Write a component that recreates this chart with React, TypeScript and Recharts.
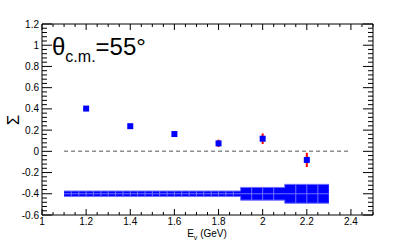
import { ComposedChart, Scatter, Area, XAxis, YAxis, ErrorBar, ReferenceLine } from 'recharts';

// beam energy (GeV) and measured beam asymmetry
const energies = [1.2, 1.4, 1.6, 1.8, 2.0, 2.2];
const sigma = [0.403, 0.237, 0.163, 0.075, 0.119, -0.081];
const statErr = [0, 0, 0, 0.035, 0.05, 0.067];

// systematic band (stepped), centred at -0.4
const bandEdges = [1.1, 1.9, 2.1, 2.3];
const bandHalf = [0.026, 0.06, 0.089, 0.089];
const bandCenter = -0.4;
// cell borders inside the band
const cellEdges = [
  1.133, 1.167, 1.2, 1.233, 1.267, 1.3, 1.333, 1.367, 1.4, 1.433, 1.467, 1.5,
  1.533, 1.567, 1.6, 1.633, 1.667, 1.7, 1.733, 1.767, 1.8, 1.833, 1.867,
  1.95, 2.0, 2.05, 2.15, 2.2, 2.25,
];
const cellHalf = cellEdges.map((e) => (e < 1.9 ? 0.026 : e < 2.1 ? 0.06 : 0.089));

const xMajor = [1, 1.2, 1.4, 1.6, 1.8, 2, 2.2, 2.4];
const yMajor = [-0.6, -0.4, -0.2, 0, 0.2, 0.4, 0.6, 0.8, 1, 1.2];

const points = energies.map((x, i) => ({ x, y: sigma[i], err: statErr[i] }));
const band = bandEdges.map((x, i) => ({ x, range: [bandCenter - bandHalf[i], bandCenter + bandHalf[i]] }));
const cells = cellEdges.map((x, i) => ({ x, y: bandCenter, err: cellHalf[i] }));

const r = (v: number) => Math.round(v * 1000) / 1000;
const xTicks: number[] = [];
for (let i = 0; i <= 30; i++) xTicks.push(r(1 + i * 0.05));
const yTicks: number[] = [];
for (let i = 0; i <= 45; i++) yTicks.push(r(-0.6 + i * 0.04));

const isMajor = (v: number, list: number[]) => list.some((m) => Math.abs(m - v) < 1e-6);
const FONT = '"Liberation Sans", Arial, sans-serif';

const BottomTick = (props: any) => {
  const { x, y, payload } = props;
  const major = isMajor(payload.value, xMajor);
  return (
    <g>
      <line x1={x} y1={y} x2={x} y2={y - (major ? 6 : 3)} stroke="#000" />
      {major && (
        <text x={x} y={y + 10} textAnchor="middle" fontSize={10} fontFamily={FONT} fill="#000">
          {String(Math.round(payload.value * 10) / 10)}
        </text>
      )}
    </g>
  );
};

const TopTick = (props: any) => {
  const { x, y, payload } = props;
  const major = isMajor(payload.value, xMajor);
  return <line x1={x} y1={y} x2={x} y2={y + (major ? 6 : 3)} stroke="#000" />;
};

const LeftTick = (props: any) => {
  const { x, y, payload } = props;
  const major = isMajor(payload.value, yMajor);
  return (
    <g>
      <line x1={x} y1={y} x2={x + (major ? 10 : 5)} y2={y} stroke="#000" />
      {major && (
        <text x={x - 3} y={y + 3.5} textAnchor="end" fontSize={10} fontFamily={FONT} fill="#000">
          {String(Math.round(payload.value * 10) / 10)}
        </text>
      )}
    </g>
  );
};

const RightTick = (props: any) => {
  const { x, y, payload } = props;
  const major = isMajor(payload.value, yMajor);
  return <line x1={x} y1={y} x2={x - (major ? 10 : 5)} y2={y} stroke="#000" />;
};

const Square = (props: any) => {
  const { cx, cy } = props;
  return <rect x={cx - 3} y={cy - 3} width={6} height={6} fill="#0000ff" />;
};

export default function App() {
  return (
    <div style={{ position: 'absolute', left: 0, top: 0, width: 415, height: 240, background: '#fff' }}>
      <ComposedChart width={415} height={240} data={band} margin={{ top: 23, right: 41, bottom: 24, left: 41 }}>
        <XAxis
          dataKey="x"
          type="number"
          domain={[1, 2.5]}
          allowDataOverflow
          ticks={xTicks}
          interval={0}
          height={1}
          tickSize={0}
          tickMargin={0}
          tickLine={false}
          axisLine={{ stroke: '#000' }}
          tick={<BottomTick />}
        />
        <XAxis
          xAxisId="top"
          orientation="top"
          dataKey="x"
          type="number"
          domain={[1, 2.5]}
          allowDataOverflow
          ticks={xTicks}
          interval={0}
          height={1}
          tickSize={0}
          tickMargin={0}
          tickLine={false}
          axisLine={{ stroke: '#000' }}
          tick={<TopTick />}
        />
        <YAxis
          type="number"
          domain={[-0.6, 1.2]}
          allowDataOverflow
          ticks={yTicks}
          interval={0}
          width={1}
          tickSize={0}
          tickMargin={0}
          tickLine={false}
          axisLine={{ stroke: '#000' }}
          tick={<LeftTick />}
        />
        <YAxis
          yAxisId="right"
          orientation="right"
          type="number"
          domain={[-0.6, 1.2]}
          allowDataOverflow
          ticks={yTicks}
          interval={0}
          width={1}
          tickSize={0}
          tickMargin={0}
          tickLine={false}
          axisLine={{ stroke: '#000' }}
          tick={<RightTick />}
        />
        <ReferenceLine
          segment={[{ x: 1.1, y: 0 }, { x: 2.4, y: 0 }]}
          stroke="#8c8c8c"
          strokeWidth={1.5}
          strokeDasharray="4 3"
        />
        <Area
          dataKey="range"
          type="stepAfter"
          fill="#0000ff"
          fillOpacity={1}
          stroke="#7070ff"
          strokeWidth={1}
          isAnimationActive={false}
        />
        <ReferenceLine
          segment={[{ x: 1.1, y: bandCenter }, { x: 2.3, y: bandCenter }]}
          stroke="#7070ff"
          strokeWidth={1}
        />
        <Scatter data={cells} dataKey="y" shape={() => <g />} isAnimationActive={false}>
          <ErrorBar dataKey="err" direction="y" width={0} stroke="#7070ff" strokeWidth={1} isAnimationActive={false} />
        </Scatter>
        <Scatter data={points} dataKey="y" shape={<Square />} isAnimationActive={false}>
          <ErrorBar dataKey="err" direction="y" width={0} stroke="#ff0000" strokeWidth={2} isAnimationActive={false} />
        </Scatter>
      </ComposedChart>
      <svg width={415} height={240} style={{ position: 'absolute', left: 0, top: 0, pointerEvents: 'none' }}>
        <text x={52} y={55} fontSize={24} fontFamily={FONT} fill="#000">
          θ<tspan fontSize={16} dy={7}>c.m.</tspan>
          <tspan fontSize={24} dy={-7}>=55°</tspan>
        </text>
        <text
          x={19}
          y={120}
          fontSize={17}
          fontFamily={FONT}
          textAnchor="middle"
          transform="rotate(-90 19 120)"
          fill="#000"
        >
          Σ
        </text>
        <text x={207} y={237} fontSize={10} fontFamily={FONT} textAnchor="middle" fill="#000">
          E<tspan fontSize={7} dy={3}>γ</tspan>
          <tspan dy={-3}> (GeV)</tspan>
        </text>
      </svg>
    </div>
  );
}
